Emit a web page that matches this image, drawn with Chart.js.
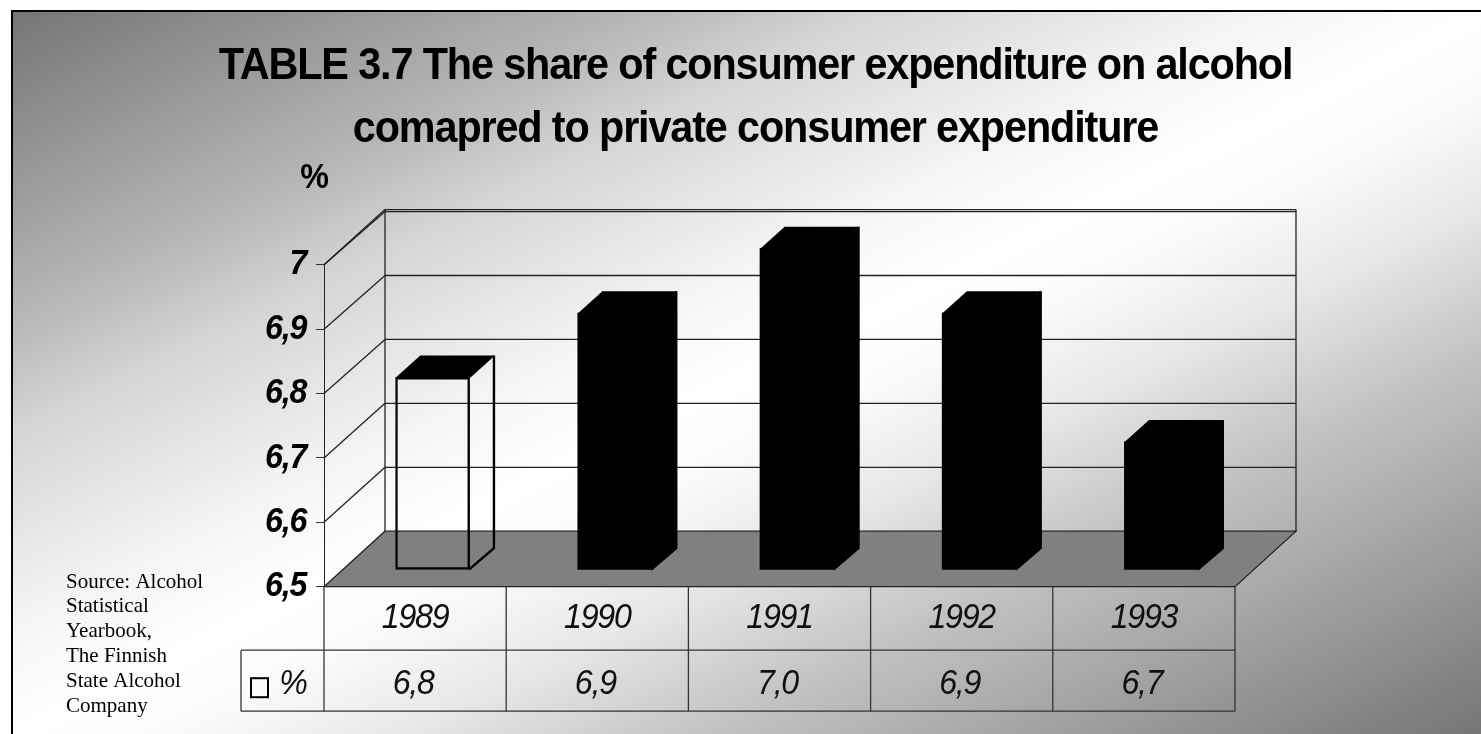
<!DOCTYPE html>
<html>
<head>
<meta charset="utf-8">
<title>Alcohol expenditure share</title>
<script src="https://cdn.jsdelivr.net/npm/chart.js@4"></script>
<style>
    html, body { margin: 0; padding: 0; background: #fff; overflow: hidden; }
    #frame {
        position: absolute; left: 11px; top: 10px; width: 1470px; height: 724px;
        border-left: 2px solid #000; border-top: 2px solid #000; box-sizing: border-box;
        background: linear-gradient(to bottom right, #757575 0%, #b8b8b8 22%, #d4d4d4 29%, #f5f5f5 43%, #ffffff 50%, #fbfbfb 55%, #e8e8e8 63%, #c4c4c4 73%, #757575 100%);
    }
    canvas { position: absolute; left: 0; top: 0; }
</style>
</head>
<body>
<div id="frame"></div>
<canvas id="chart" width="1481" height="734"></canvas>
<script>
const titleLines = ['TABLE 3.7 The share of consumer expenditure on alcohol', 'comapred to private consumer expenditure'];
const years = ['1989', '1990', '1991', '1992', '1993'];
const shares = [6.8, 6.9, 7.0, 6.9, 6.7];
const shareLabels = ['6,8', '6,9', '7,0', '6,9', '6,7'];
const yTickLabels = ['6,5', '6,6', '6,7', '6,8', '6,9', '7'];
const seriesName = '%';
const sourceLines = ['Source: Alcohol', 'Statistical', 'Yearbook,', 'The Finnish', 'State Alcohol', 'Company'];

const sans = '"Liberation Sans", Arial, sans-serif';
const lineColor = '#222';
const wallDepth = { x: 61, y: 55.5 };
const barOffset = { x: 17.5, y: 16.5 };
const barDepth = { x: 25, y: 21.5 };

const ctx = document.getElementById('chart').getContext('2d');

// the reference text is squeezed and tightly spaced, no narrow font is installed so do it per string
const drawText = ctx.fillText.bind(ctx);
ctx.fillText = function(text, x, y) {
    const isTitle = ctx.font.includes('44px');
    const isSerif = ctx.font.includes('Serif');
    ctx.save();
    ctx.translate(x, y);
    ctx.scale(isSerif ? 1 : isTitle ? 0.94 : 0.92, 1);
    ctx.letterSpacing = isSerif ? '0px' : isTitle ? '-1.2px' : '-1.4px';
    drawText(text, 0, 0);
    ctx.restore();
};

function line(x1, y1, x2, y2) {
    ctx.beginPath();
    ctx.moveTo(x1, y1);
    ctx.lineTo(x2, y2);
    ctx.stroke();
}

// walls and floor of the 3d box, behind the bars
const boxPlugin = {
    id: 'box',
    beforeDatasetsDraw(chart) {
        const { chartArea: area, scales: { y } } = chart;
        const backLeft = area.left + wallDepth.x;
        const backRight = area.right + wallDepth.x;
        const floorBack = area.bottom - wallDepth.y;
        const backY = py => floorBack - (area.bottom - py) * 0.993;
        ctx.save();
        ctx.fillStyle = '#808080';
        ctx.strokeStyle = lineColor;
        ctx.lineWidth = 1.3;
        ctx.beginPath();
        ctx.moveTo(area.left, area.bottom);
        ctx.lineTo(backLeft, floorBack);
        ctx.lineTo(backRight, floorBack);
        ctx.lineTo(area.right, area.bottom);
        ctx.closePath();
        ctx.fill();
        ctx.stroke();
        yTickLabels.forEach((label, i) => {
            if (i === 0) return;
            const py = y.getPixelForValue(6.5 + i / 10);
            line(area.left, py, backLeft, backY(py));
            line(backLeft, backY(py), backRight, backY(py));
        });
        const top = backY(area.top);
        line(backLeft, top - 2, backRight, top - 2);
        line(area.left, area.top, backLeft, top - 2);
        line(backLeft, top - 2, backLeft, floorBack);
        line(backRight, top - 2, backRight, floorBack);
        ctx.restore();
    },
    beforeDatasetDraw(chart) {
        ctx.save();
        ctx.translate(barOffset.x, -barOffset.y);
        chart.getDatasetMeta(0).data.forEach((bar, i) => {
            const left = bar.x - bar.width / 2;
            const right = bar.x + bar.width / 2;
            ctx.fillStyle = chart.data.datasets[0].backgroundColor[i];
            ctx.strokeStyle = '#000';
            ctx.lineWidth = 2.4;
            ctx.beginPath();
            ctx.moveTo(right - 1, bar.base);
            ctx.lineTo(right, bar.base);
            ctx.lineTo(right + barDepth.x, bar.base - barDepth.y);
            ctx.lineTo(right + barDepth.x, bar.y - barDepth.y);
            ctx.lineTo(right - 1, bar.y);
            ctx.closePath();
            ctx.fill();
            ctx.beginPath();
            ctx.moveTo(right - 1, bar.base);
            ctx.lineTo(right + barDepth.x - 1, bar.base - barDepth.y);
            ctx.lineTo(right + barDepth.x - 1, bar.y - barDepth.y);
            ctx.stroke();
            ctx.fillStyle = '#000';
            ctx.beginPath();
            ctx.moveTo(left, bar.y + 1);
            ctx.lineTo(left + barDepth.x, bar.y - barDepth.y);
            ctx.lineTo(right + barDepth.x, bar.y - barDepth.y);
            ctx.lineTo(right, bar.y + 1);
            ctx.closePath();
            ctx.fill();
        });
    },
    afterDatasetDraw() {
        ctx.restore();
    },
    // data table under the plot, source note and the % unit
    afterDraw(chart) {
        const { chartArea: area, scales: { x } } = chart;
        const band = area.width / years.length;
        const rowY = area.bottom + 63.5;
        const tableBottom = area.bottom + 124.5;
        const legendLeft = 241;
        ctx.save();
        ctx.strokeStyle = '#333';
        ctx.lineWidth = 1.3;
        line(legendLeft, rowY, area.right, rowY);
        line(legendLeft, tableBottom, area.right, tableBottom);
        line(legendLeft, rowY, legendLeft, tableBottom);
        for (let i = 0; i <= years.length; i++) {
            const px = area.left + band * i;
            line(px, area.bottom, px, tableBottom);
        }
        ctx.fillStyle = '#111';
        ctx.textAlign = 'center';
        ctx.textBaseline = 'middle';
        ctx.font = 'italic 35px ' + sans;
        shareLabels.forEach((label, i) => {
            ctx.fillText(label, x.getPixelForValue(i) - 2, rowY + 34);
        });
        ctx.fillText(seriesName, 293, rowY + 34);
        ctx.strokeStyle = '#000';
        ctx.lineWidth = 2;
        ctx.strokeRect(251, rowY + 28, 17, 19);

        ctx.fillStyle = '#000';
        ctx.font = 'bold 35px ' + sans;
        ctx.fillText(seriesName, 314, 178);

        ctx.textAlign = 'left';
        ctx.font = '21px "Liberation Serif", serif';
        sourceLines.forEach((text, i) => {
            ctx.fillText(text, 66, 582 + i * 24.8);
        });
        ctx.restore();
    }
};

new Chart(ctx, {
    type: 'bar',
    data: {
        labels: years,
        datasets: [{
            label: seriesName,
            data: shares,
            base: 6.5,
            yAxisID: 'y',
            backgroundColor: ['rgba(0,0,0,0)', '#000', '#000', '#000', '#000'],
            borderColor: '#000',
            borderWidth: [2.4, 0, 0, 0, 0],
            borderSkipped: false,
            categoryPercentage: 1,
            barPercentage: 0.41,
            clip: false
        }]
    },
    options: {
        responsive: false,
        animation: false,
        devicePixelRatio: 1,
        layout: { padding: { left: 30, top: 0, right: 0, bottom: 0 } },
        plugins: {
            legend: { display: false },
            tooltip: { enabled: false },
            title: {
                display: true,
                text: titleLines,
                color: '#000',
                font: { family: sans, size: 44, weight: 'bold', lineHeight: 1.43 },
                padding: { top: 35, bottom: 104 }
            }
        },
        scales: {
            x: {
                offset: true,
                grid: { display: false },
                border: { display: false },
                ticks: {
                    color: '#111',
                    padding: 3,
                    maxRotation: 0,
                    font: { family: sans, size: 35, style: 'italic' }
                },
                afterFit: function(scale) { scale.height = 147.3; }
            },
            y: {
                min: 6.5,
                max: 7,
                grid: { drawOnChartArea: false, tickLength: 8, color: '#333' },
                border: { color: lineColor },
                ticks: {
                    stepSize: 0.1,
                    color: '#000',
                    padding: 10,
                    font: { family: sans, size: 35, style: 'italic', weight: 'bold' },
                    callback: function(value, index) { return yTickLabels[index]; }
                },
                afterFit: function(scale) { scale.width = 294; }
            },
            // empty axis only keeps the plot off the right side, title stays centred
            spacer: {
                position: 'right',
                grid: { display: false },
                border: { display: false },
                ticks: { display: false },
                afterFit: function(scale) { scale.width = 246; }
            }
        }
    },
    plugins: [boxPlugin]
});
</script>
</body>
</html>
